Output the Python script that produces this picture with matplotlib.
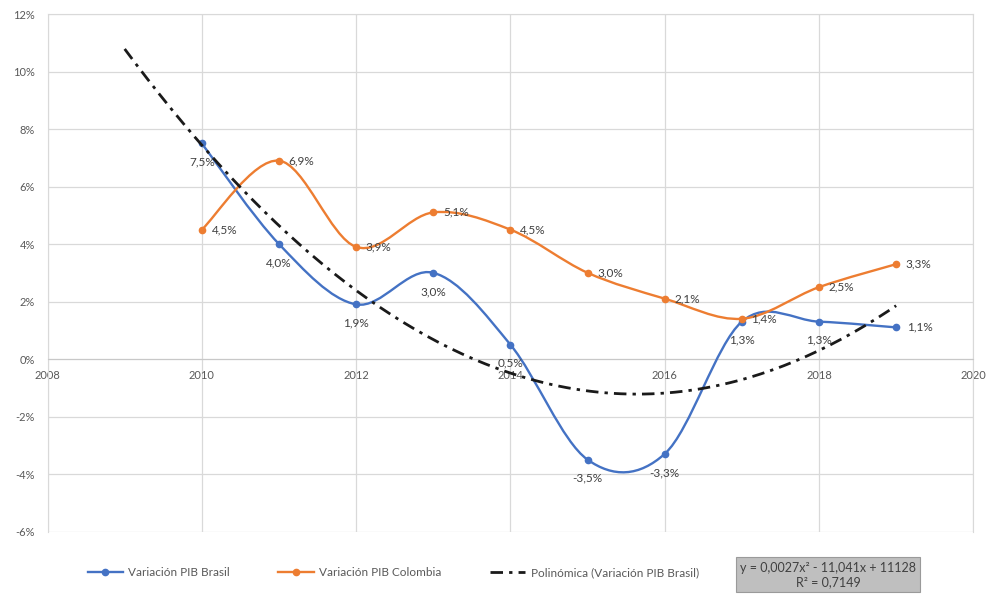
import numpy as np
import matplotlib
matplotlib.use('Agg')
import matplotlib.pyplot as plt
from matplotlib.path import Path
from matplotlib.patches import PathPatch
from matplotlib.lines import Line2D

plt.rcParams['font.family'] = ['Lato', 'DejaVu Sans']

years = [2010, 2011, 2012, 2013, 2014, 2015, 2016, 2017, 2018, 2019]
pib_brasil = [7.5, 4.0, 1.9, 3.0, 0.5, -3.5, -3.3, 1.3, 1.3, 1.1]
pib_colombia = [4.5, 6.9, 3.9, 5.1, 4.5, 3.0, 2.1, 1.4, 2.5, 3.3]
trend_label = 'y = 0,0027x² - 11,041x + 11128\nR² = 0,7149'

BLUE = '#4472C4'
ORANGE = '#ED7D31'
GRID = '#d9d9d9'
TXT = '#595959'
LBL = '#404040'
TREND_LS = (0, (4.5, 2.2, 1.2, 2.2))


def smooth_path(xs, ys):
    # cubic bezier through every point (Catmull-Rom style tangents)
    pts = np.column_stack([xs, ys]).astype(float)
    n = len(pts)
    verts = [pts[0]]
    codes = [Path.MOVETO]
    for i in range(n - 1):
        p0 = pts[max(i - 1, 0)]
        p1 = pts[i]
        p2 = pts[i + 1]
        p3 = pts[min(i + 2, n - 1)]
        c1 = p1 + (p2 - p0) / 6.0
        c2 = p2 - (p3 - p1) / 6.0
        verts += [c1, c2, p2]
        codes += [Path.CURVE4] * 3
    return Path(verts, codes)


def fmt(v):
    return ('%.1f%%' % v).replace('.', ',')


fig = plt.figure(figsize=(9.88, 5.95), dpi=100)
ax = fig.add_axes([0.0481, 0.1067, 0.937, 0.8697])

# series
for vals, col in [(pib_brasil, BLUE), (pib_colombia, ORANGE)]:
    ax.add_patch(PathPatch(smooth_path(years, vals), fill=False, edgecolor=col,
                           lw=1.7, zorder=3))
    ax.plot(years, vals, 'o', color=col, ms=4.5, zorder=4)

# polynomial trend (order 2) of Brazil, one period back
coef = np.polyfit(years, pib_brasil, 2)
xt = np.linspace(years[0] - 1, years[-1], 200)
ax.plot(xt, np.polyval(coef, xt), color='#1a1a1a', lw=2.0,
        linestyle=TREND_LS, zorder=5)

# data labels
for i, (x, v) in enumerate(zip(years, pib_brasil)):
    if i == len(years) - 1:
        ax.annotate(fmt(v), (x, v), xytext=(8, 0), textcoords='offset points',
                    ha='left', va='center', fontsize=8.5, color=LBL, zorder=6)
    else:
        ax.annotate(fmt(v), (x, v), xytext=(0, -13.5), textcoords='offset points',
                    ha='center', va='center', fontsize=8.5, color=LBL, zorder=6)
for x, v in zip(years, pib_colombia):
    ax.annotate(fmt(v), (x, v), xytext=(7, 0), textcoords='offset points',
                ha='left', va='center', fontsize=8.5, color=LBL, zorder=6)

ax.set_xlim(2008, 2020)
ax.set_ylim(-6, 12)
ax.set_xticks(range(2008, 2021, 2))
ax.set_yticks(range(-6, 13, 2))
ax.set_yticklabels(['%d%%' % t for t in range(-6, 13, 2)])
ax.grid(True, color=GRID, lw=0.9)
ax.set_axisbelow(True)
for s in ['left', 'right', 'top']:
    ax.spines[s].set_color(GRID)
ax.spines['bottom'].set_position(('data', 0))
ax.spines['bottom'].set_color('#c8c8c8')
ax.tick_params(axis='both', length=0, labelsize=8, labelcolor=TXT)
ax.tick_params(axis='x', pad=8)
ax.tick_params(axis='y', pad=9)

# legend
handles = [
    Line2D([], [], color=BLUE, lw=1.7, marker='o', ms=4.5),
    Line2D([], [], color=ORANGE, lw=1.7, marker='o', ms=4.5),
    Line2D([], [], color='#1a1a1a', lw=2.0, linestyle=TREND_LS),
]
labels = ['Variación PIB Brasil', 'Variación PIB Colombia',
          'Polinómica (Variación PIB Brasil)']
fig.legend(handles, labels, loc='center', bbox_to_anchor=(0.398, 0.037), ncol=3,
           frameon=False, fontsize=8.5, handlelength=3.0, handletextpad=0.45,
           columnspacing=4.1, labelcolor=TXT)

fig.text(0.838, 0.034, trend_label, ha='center', va='center', fontsize=9,
         color=LBL, linespacing=1.2,
         bbox=dict(boxstyle='square,pad=0.35', fc='#bfbfbf', ec='#9a9a9a', lw=0.8))

fig.savefig('out.png', dpi=100, facecolor='white')
